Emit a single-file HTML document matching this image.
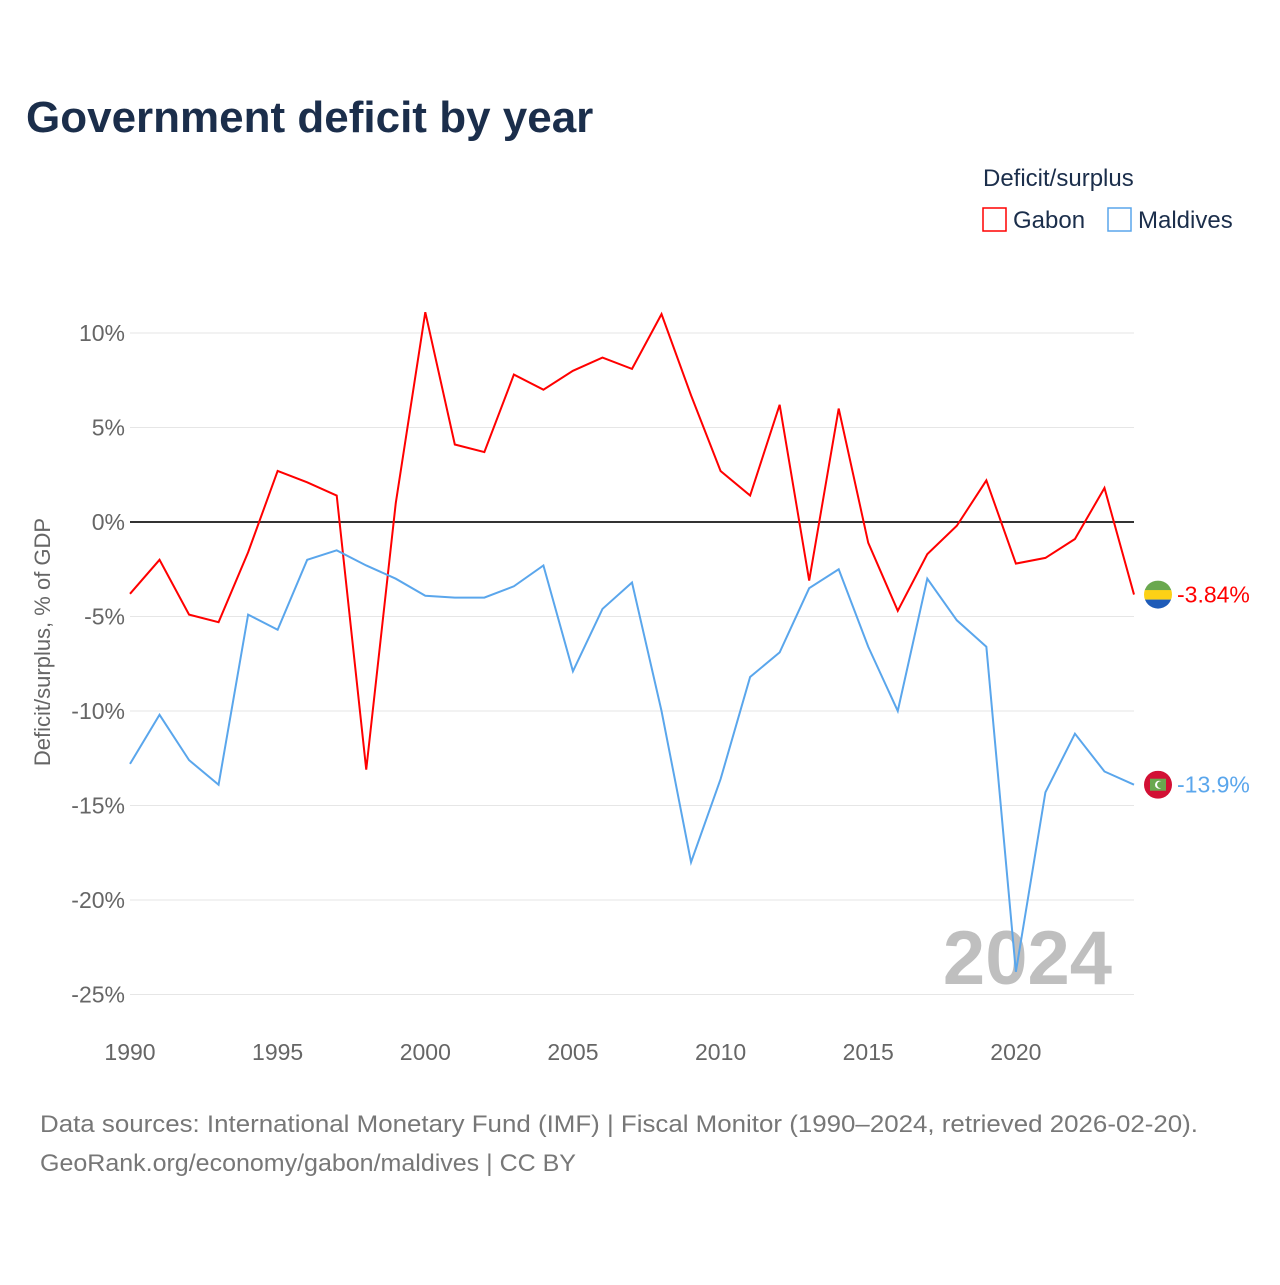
<!DOCTYPE html>
<html><head><meta charset="utf-8"><style>
body{margin:0;background:#fff;font-family:"Liberation Sans",sans-serif;}
svg text{font-family:"Liberation Sans",sans-serif;}
</style></head><body>
<svg width="1280" height="1280" viewBox="0 0 1280 1280">
<defs>
<clipPath id="cg"><circle cx="0" cy="0" r="14"/></clipPath>
</defs>
<text x="26" y="132" font-size="44" font-weight="bold" fill="#1b2e4b">Government deficit by year</text>
<text x="983" y="186" font-size="24" fill="#1b2e4b">Deficit/surplus</text>
<g><rect x="983" y="208" width="23" height="23" fill="none" stroke="#ff0000" stroke-width="1.5"/><text x="1013" y="228" font-size="24" fill="#1b2e4b">Gabon</text></g>
<g><rect x="1108" y="208" width="23" height="23" fill="none" stroke="#5aa6ec" stroke-width="1.5"/><text x="1138" y="228" font-size="24" fill="#1b2e4b">Maldives</text></g>
<g id="grid"></g><g id="yticks"></g><g id="xticks"></g>
<text transform="translate(50,642) rotate(-90)" text-anchor="middle" font-size="22" fill="#666">Deficit/surplus, % of GDP</text>
<text x="1112" y="984" text-anchor="end" font-size="76" font-weight="bold" fill="#bfbfbf">2024</text>
<g id="series"></g>
<text x="40" y="1132" font-size="24" fill="#777" textLength="1158" lengthAdjust="spacingAndGlyphs">Data sources: International Monetary Fund (IMF) | Fiscal Monitor (1990–2024, retrieved 2026-02-20).</text>
<text x="40" y="1171" font-size="24" fill="#777" textLength="536" lengthAdjust="spacingAndGlyphs">GeoRank.org/economy/gabon/maldives | CC BY</text>
</svg>
<script>
const years=[];for(let y=1990;y<=2024;y++)years.push(y);
const gabon=[-3.8,-2.0,-4.9,-5.3,-1.6,2.7,2.1,1.4,-13.1,1.0,11.1,4.1,3.7,7.8,7.0,8.0,8.7,8.1,11.0,6.7,2.7,1.4,6.2,-3.1,6.0,-1.1,-4.7,-1.7,-0.2,2.2,-2.2,-1.9,-0.9,1.8,-3.84];
const maldives=[-12.8,-10.2,-12.6,-13.9,-4.9,-5.7,-2.0,-1.5,-2.3,-3.0,-3.9,-4.0,-4.0,-3.4,-2.3,-7.9,-4.6,-3.2,-10.0,-18.0,-13.6,-8.2,-6.9,-3.5,-2.5,-6.6,-10.0,-3.0,-5.2,-6.6,-23.8,-14.3,-11.2,-13.2,-13.9];
const yTicks=[10,5,0,-5,-10,-15,-20,-25];
const xTicks=[1990,1995,2000,2005,2010,2015,2020];
const NS="http://www.w3.org/2000/svg";
const X=y=>130+(y-1990)*(1134-130)/34;
const Y=v=>522-v*18.9;
function mk(t,a,p){const e=document.createElementNS(NS,t);for(const k in a)e.setAttribute(k,a[k]);p.appendChild(e);return e;}
const grid=document.getElementById('grid'),yt=document.getElementById('yticks'),xt=document.getElementById('xticks'),ser=document.getElementById('series');
yTicks.forEach(v=>{
 const l=mk('line',{x1:130,x2:1134,y1:Y(v),y2:Y(v),stroke:v===0?'#333':'#e6e6e6','stroke-width':v===0?2:1},grid);
 
 
 const t=mk('text',{x:125,y:Y(v)+8,'text-anchor':'end','font-size':23,fill:'#666'},yt);t.textContent=v+'%';
 
 
});
xTicks.forEach(v=>{
 const t=mk('text',{x:X(v),y:1060,'text-anchor':'middle','font-size':23,fill:'#666'},xt);t.textContent=v;
 
 
});
function flag(cy,kind,name){
 const g=mk('g',{transform:'translate(1158,'+cy+')','clip-path':'url(#cg)'},ser);
 
 
 if(kind==='gabon'){
  mk('rect',{x:-14,y:-14,width:28,height:10,fill:'#6aa84f'},g);
  mk('rect',{x:-14,y:-4.5,width:28,height:9.5,fill:'#fcd116'},g);
  mk('rect',{x:-14,y:5,width:28,height:10,fill:'#1e5bb8'},g);
 }else{
  mk('rect',{x:-14,y:-14,width:28,height:28,fill:'#d21034'},g);
  mk('rect',{x:-8,y:-6,width:16,height:12,fill:'#6aa84f'},g);
  mk('circle',{cx:1,cy:0,r:4,fill:'#fff'},g);
  mk('circle',{cx:2.5,cy:0,r:3.4,fill:'#6aa84f'},g);
 }
}
function line(d,c,name,lab,kind){
 const p=mk('polyline',{points:d.map((v,i)=>X(years[i])+','+Y(v)).join(' '),fill:'none',stroke:c,'stroke-width':2},ser);
 
 
 const last=d[d.length-1];
 flag(Y(last),kind,name);
 const t=mk('text',{x:1177,y:Y(last)+8,'font-size':23,fill:c},ser);t.textContent=lab;
 
 
}
line(gabon,'#ff0000','gabon-line','-3.84%','gabon');
line(maldives,'#5aa6ec','maldives-line','-13.9%','maldives');
</script>
</body></html>
